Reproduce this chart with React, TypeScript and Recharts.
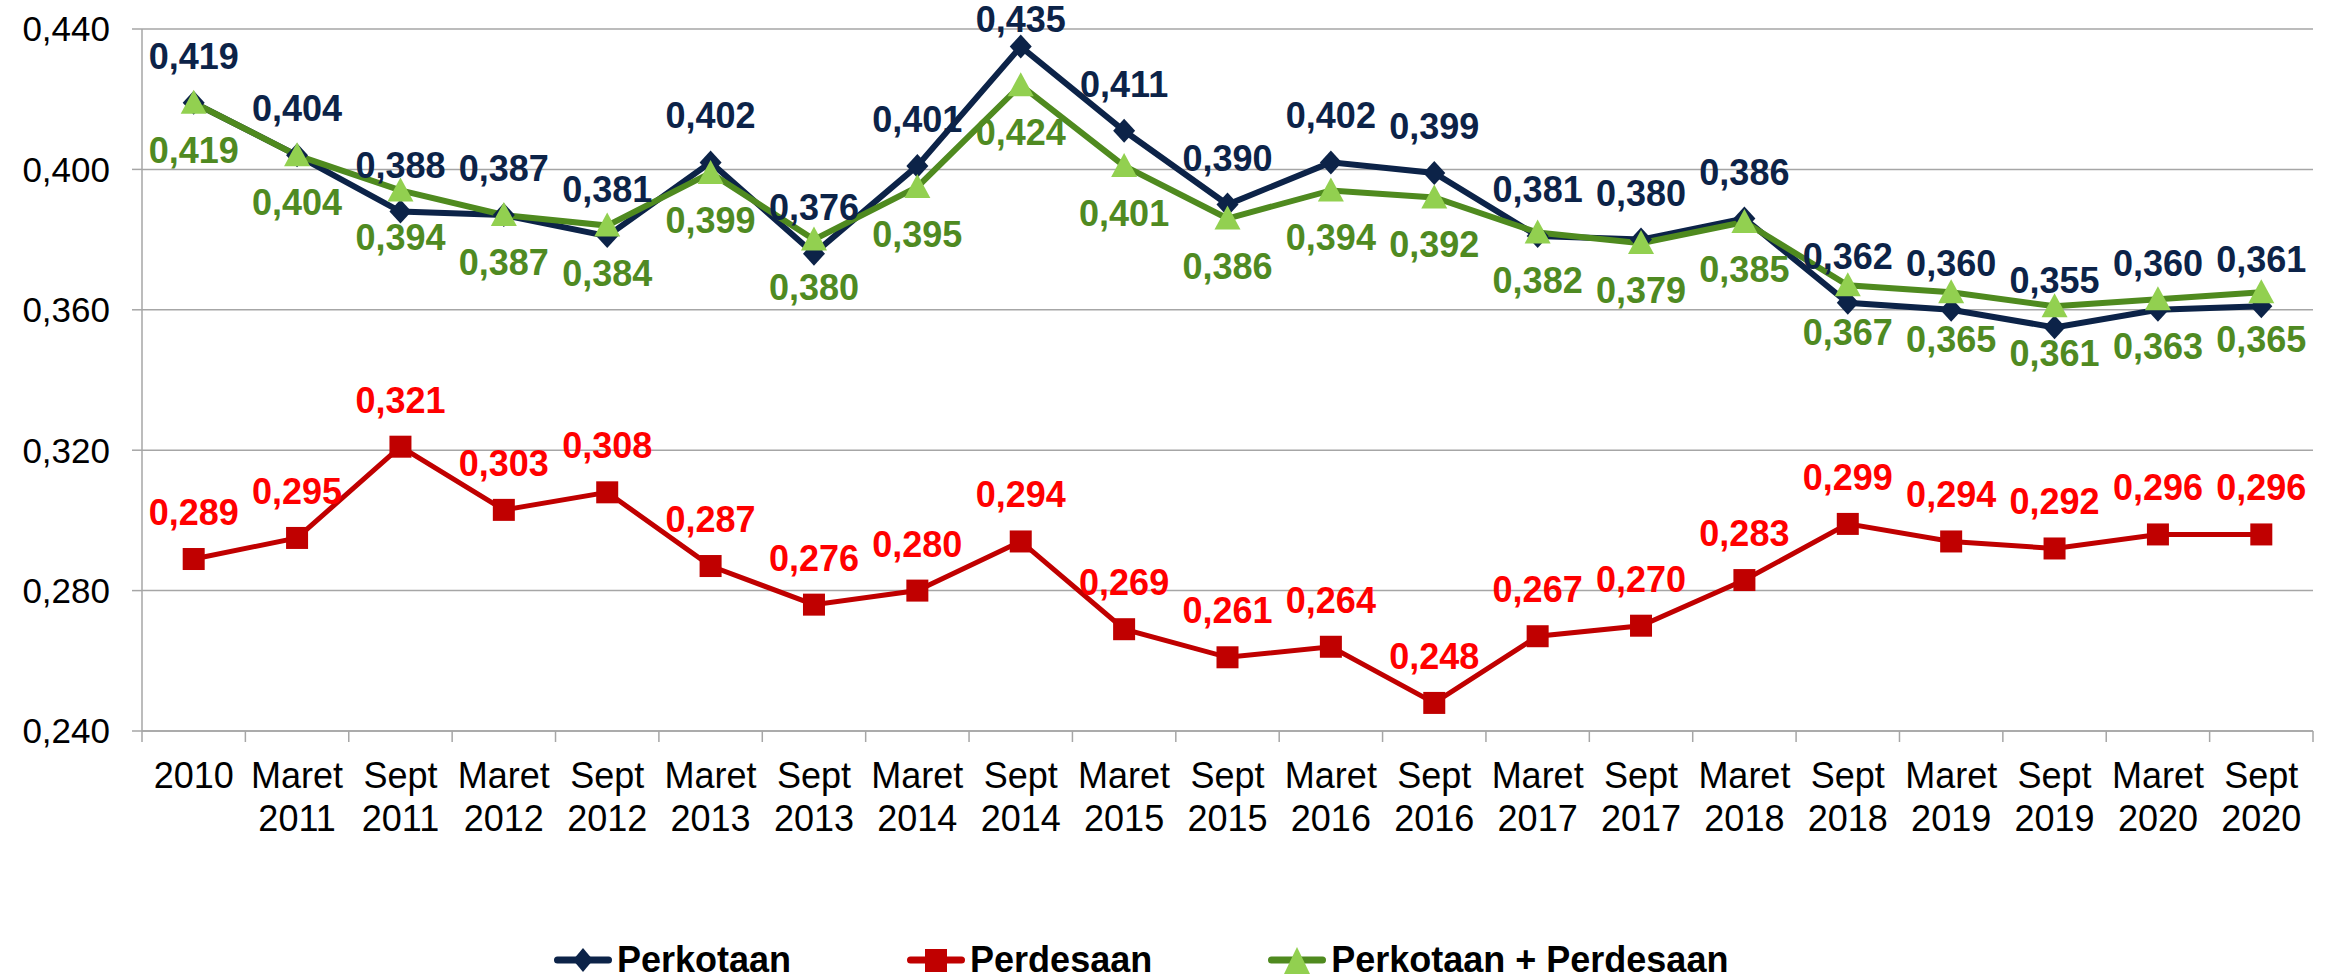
import { LineChart, Line, XAxis, YAxis, CartesianGrid, Legend, LabelList } from "recharts";

const periods = [
  "2010", "Maret 2011", "Sept 2011", "Maret 2012", "Sept 2012", "Maret 2013", "Sept 2013",
  "Maret 2014", "Sept 2014", "Maret 2015", "Sept 2015", "Maret 2016", "Sept 2016",
  "Maret 2017", "Sept 2017", "Maret 2018", "Sept 2018", "Maret 2019", "Sept 2019",
  "Maret 2020", "Sept 2020",
];

const perkotaan = [
  0.419, 0.404, 0.388, 0.387, 0.381, 0.402, 0.376, 0.401, 0.435, 0.411, 0.39,
  0.402, 0.399, 0.381, 0.38, 0.386, 0.362, 0.36, 0.355, 0.36, 0.361,
];

const perdesaan = [
  0.289, 0.295, 0.321, 0.303, 0.308, 0.287, 0.276, 0.28, 0.294, 0.269, 0.261,
  0.264, 0.248, 0.267, 0.27, 0.283, 0.299, 0.294, 0.292, 0.296, 0.296,
];

const gabungan = [
  0.419, 0.404, 0.394, 0.387, 0.384, 0.399, 0.38, 0.395, 0.424, 0.401, 0.386,
  0.394, 0.392, 0.382, 0.379, 0.385, 0.367, 0.365, 0.361, 0.363, 0.365,
];

const yTicks = [0.24, 0.28, 0.32, 0.36, 0.4, 0.44];

const data = periods.map((period, i) => ({
  period,
  perkotaan: perkotaan[i],
  perdesaan: perdesaan[i],
  gabungan: gabungan[i],
}));

const NAVY = "#0c2348";
const RED_LINE = "#c00000";
const RED_LABEL = "#ff0000";
const GREEN_LINE = "#4f8a1f";
const GREEN_MARK = "#92d050";
const GREEN_LABEL = "#4f8a22";
const GRID = "#a6a6a6";
const FONT = "'Liberation Sans', Arial, sans-serif";
const LABEL_SIZE = 36;

const W = 2338;
const H = 976;
const LEFT = 142;
const RIGHT = 25;
const STEP = (W - LEFT - RIGHT) / periods.length;
const HALF = STEP / 2;

const fmt = (v: any) => Number(v).toFixed(3).replace(".", ",");

// data labels; "above" ones are kept from running off the top edge
const makeLabel = (color: string, above: boolean) => (p: any) => {
  const x = p.viewBox?.x ?? p.x;
  const y = p.viewBox?.y ?? p.y;
  if (x == null || y == null) return null;
  const base = above ? Math.max(y - 34, 32) : y + 60;
  return (
    <text x={x} y={base} textAnchor="middle" fill={color} fontSize={LABEL_SIZE} fontWeight="bold">
      {fmt(p.value)}
    </text>
  );
};

const Diamond = ({ cx, cy }: any) => {
  if (cx == null || cy == null) return null;
  return <polygon points={`${cx},${cy - 12} ${cx + 11},${cy} ${cx},${cy + 12} ${cx - 11},${cy}`} fill={NAVY} />;
};

const Square = ({ cx, cy }: any) => {
  if (cx == null || cy == null) return null;
  return <rect x={cx - 11} y={cy - 11} width={22} height={22} fill={RED_LINE} />;
};

const Triangle = ({ cx, cy }: any) => {
  if (cx == null || cy == null) return null;
  return <polygon points={`${cx},${cy - 13} ${cx + 13},${cy + 11} ${cx - 13},${cy + 11}`} fill={GREEN_MARK} />;
};

const XTick = (props: any) => {
  const { x, y, payload, index } = props;
  const lines = String(payload.value).split(" ");
  return (
    <g>
      <line x1={x - HALF} x2={x - HALF} y1={y} y2={y + 11} stroke={GRID} strokeWidth={1.5} />
      {index === periods.length - 1 && (
        <line x1={x + HALF} x2={x + HALF} y1={y} y2={y + 11} stroke={GRID} strokeWidth={1.5} />
      )}
      <text x={x} y={y} textAnchor="middle" fontSize={36} fill="#000">
        {lines.map((l, i) => (
          <tspan key={i} x={x} dy={i === 0 ? 57 : 43}>
            {l}
          </tspan>
        ))}
      </text>
    </g>
  );
};

const legendItems = [
  { name: "Perkotaan", line: NAVY, mark: "diamond" },
  { name: "Perdesaan", line: RED_LINE, mark: "square" },
  { name: "Perkotaan + Perdesaan", line: GREEN_LINE, mark: "triangle" },
];

const LegendIcon = ({ line, mark }: { line: string; mark: string }) => (
  <svg width={58} height={30} style={{ display: "block" }}>
    <line x1={3.5} x2={54.5} y1={15} y2={15} stroke={line} strokeWidth={7} strokeLinecap="round" />
    {mark === "diamond" && <polygon points="29,3 39,15 29,27 19,15" fill={NAVY} />}
    {mark === "square" && <rect x={18} y={4} width={22} height={23} fill={RED_LINE} />}
    {mark === "triangle" && <polygon points="29,2 42,29 16,29" fill={GREEN_MARK} />}
  </svg>
);

const LegendContent = () => (
  <div style={{ display: "flex", alignItems: "center", height: 30 }}>
    {legendItems.map((it) => (
      <div key={it.name} style={{ display: "flex", alignItems: "center", marginRight: 116 }}>
        <LegendIcon line={it.line} mark={it.mark} />
        <span
          style={{
            marginLeft: 5,
            fontSize: 36,
            fontWeight: "bold",
            lineHeight: "30px",
            color: "#000",
            whiteSpace: "nowrap",
          }}
        >
          {it.name}
        </span>
      </div>
    ))}
  </div>
);

export default function App() {
  return (
    <div style={{ position: "absolute", left: 0, top: 0, width: W, height: H, background: "#fff", fontFamily: FONT }}>
      <LineChart width={W} height={H} data={data} margin={{ top: 29, right: RIGHT, bottom: 0, left: 0 }}>
        <CartesianGrid vertical={false} stroke={GRID} strokeWidth={1.5} />
        <XAxis
          dataKey="period"
          interval={0}
          padding={{ left: HALF, right: HALF }}
          height={245}
          tickSize={0}
          tickMargin={0}
          tickLine={false}
          axisLine={{ stroke: GRID, strokeWidth: 1.5 }}
          tick={<XTick />}
        />
        <YAxis
          type="number"
          domain={[0.24, 0.44]}
          ticks={yTicks}
          width={LEFT}
          tickSize={10}
          tickMargin={22}
          tickFormatter={fmt}
          tickLine={{ stroke: GRID, strokeWidth: 1.5 }}
          axisLine={{ stroke: GRID, strokeWidth: 1.5 }}
          tick={{ fill: "#000", fontSize: 35 }}
        />
        <Legend
          layout="horizontal"
          verticalAlign="middle"
          align="center"
          wrapperStyle={{ top: 945, left: 554, width: "auto", height: "auto" }}
          content={<LegendContent />}
        />
        <Line
          dataKey="perkotaan"
          stroke={NAVY}
          strokeWidth={6}
          dot={<Diamond />}
          activeDot={false}
          isAnimationActive={false}
        />
        <Line
          dataKey="perdesaan"
          stroke={RED_LINE}
          strokeWidth={5}
          dot={<Square />}
          activeDot={false}
          isAnimationActive={false}
        />
        <Line
          dataKey="gabungan"
          stroke={GREEN_LINE}
          strokeWidth={6}
          dot={<Triangle />}
          activeDot={false}
          isAnimationActive={false}
        />
        <Line dataKey="perkotaan" stroke="none" dot={false} activeDot={false} legendType="none" isAnimationActive={false}>
          <LabelList dataKey="perkotaan" content={makeLabel(NAVY, true)} />
        </Line>
        <Line dataKey="perdesaan" stroke="none" dot={false} activeDot={false} legendType="none" isAnimationActive={false}>
          <LabelList dataKey="perdesaan" content={makeLabel(RED_LABEL, true)} />
        </Line>
        <Line dataKey="gabungan" stroke="none" dot={false} activeDot={false} legendType="none" isAnimationActive={false}>
          <LabelList dataKey="gabungan" content={makeLabel(GREEN_LABEL, false)} />
        </Line>
      </LineChart>
    </div>
  );
}
